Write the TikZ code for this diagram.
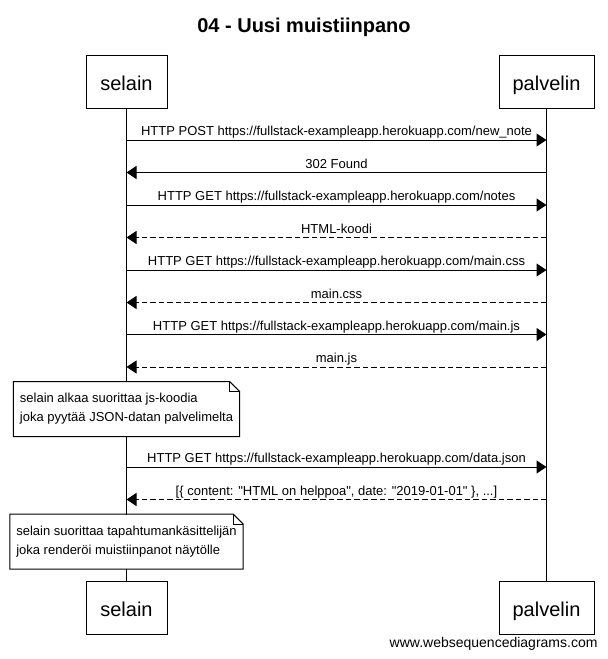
\documentclass[tikz,border=0pt]{standalone}
\usepackage{fontspec}
\setmainfont{Liberation Sans}
\usetikzlibrary{arrows.meta}
\usetikzlibrary{calc}
\usetikzlibrary{positioning}

\begin{document}
\begin{tikzpicture}[
  x=1pt, y=-1pt, line width=1pt,
  > = {Triangle[length=10pt,width=13pt]},
  actor/.style = {draw,minimum height=53pt,inner sep=0pt,text height=17pt,text depth=0pt,font=\fontsize{20}{24}\selectfont},
  msg/.style = {->},
  reply/.style = {->,dash pattern=on 5.5pt off 3pt},
  txt/.style = {anchor=base,yshift=4.5pt,inner sep=0pt,font=\fontsize{13}{16}\selectfont},
  notebox/.style = {fill=white,align=left,inner xsep=6pt,inner ysep=0pt,minimum height=54pt,font=\fontsize{13}{19}\selectfont}
  ]
	\useasboundingbox (0,0) rectangle (608,659);

	\node[anchor=base,font=\bfseries\fontsize{20}{24}\selectfont] (title) at (304,32) {04 - Uusi muistiinpano};

	% osapuolet
	\node[actor,minimum width=81pt] (selT) at (126.5,81.5) {selain};
	\node[actor,minimum width=95pt] (palT) at (546.5,81.5) {palvelin};
	\node[actor,minimum width=81pt] (selB) at (126.5,607.5) {selain};
	\node[actor,minimum width=95pt] (palB) at (546.5,607.5) {palvelin};

	\draw (selT) -- (selB);
	\draw (palT) -- (palB);

	\coordinate (s1) at (126.5,140);   \coordinate (p1) at (546.5,140);
	\coordinate (s2) at (126.5,172.5); \coordinate (p2) at (546.5,172.5);
	\coordinate (s3) at (126.5,205);   \coordinate (p3) at (546.5,205);
	\coordinate (s4) at (126.5,237.5); \coordinate (p4) at (546.5,237.5);
	\coordinate (s5) at (126.5,270);   \coordinate (p5) at (546.5,270);
	\coordinate (s6) at (126.5,302.5); \coordinate (p6) at (546.5,302.5);
	\coordinate (s7) at (126.5,334.5); \coordinate (p7) at (546.5,334.5);
	\coordinate (s8) at (126.5,367);   \coordinate (p8) at (546.5,367);
	\coordinate (s9) at (126.5,467);   \coordinate (p9) at (546.5,467);
	\coordinate (s10) at (126.5,499.5); \coordinate (p10) at (546.5,499.5);

	% viestit
	\draw[msg] (s1) -- node[txt] {HTTP POST https://fullstack-exampleapp.herokuapp.com/new\_note} (p1);
	\draw[msg] (p2) -- node[txt] {302 Found} (s2);
	\draw[msg] (s3) -- node[txt] {HTTP GET https://fullstack-exampleapp.herokuapp.com/notes} (p3);
	\draw[reply] (p4) -- node[txt] {HTML-koodi} (s4);
	\draw[msg] (s5) -- node[txt] {HTTP GET https://fullstack-exampleapp.herokuapp.com/main.css} (p5);
	\draw[reply] (p6) -- node[txt] {main.css} (s6);
	\draw[msg] (s7) -- node[txt] {HTTP GET https://fullstack-exampleapp.herokuapp.com/main.js} (p7);
	\draw[reply] (p8) -- node[txt] {main.js} (s8);
	\draw[msg] (s9) -- node[txt] {HTTP GET https://fullstack-exampleapp.herokuapp.com/data.json} (p9);
	\draw[reply] (p10) -- node[txt] {[\{ content: \textquotedbl HTML on helppoa\textquotedbl, date: \textquotedbl 2019-01-01\textquotedbl\ \}, ...]} (s10);

	% muistiinpanot
	\node[notebox] (n1) at (126.5,409) {selain alkaa suorittaa js-koodia\\joka pyytää JSON-datan palvelimelta};
	\draw (n1.south west) -- (n1.north west) -- ([xshift=-10pt]n1.north east) -- ([yshift=-10pt]n1.north east) -- (n1.south east) -- cycle;
	\draw ([xshift=-10pt]n1.north east) |- ([yshift=-10pt]n1.north east);

	\node[notebox] (n2) at (126.5,541.5) {selain suorittaa tapahtumankäsittelijän\\joka renderöi muistiinpanot näytölle};
	\draw (n2.south west) -- (n2.north west) -- ([xshift=-10pt]n2.north east) -- ([yshift=-10pt]n2.north east) -- (n2.south east) -- cycle;
	\draw ([xshift=-10pt]n2.north east) |- ([yshift=-10pt]n2.north east);

	\node[anchor=base east,inner sep=0pt,font=\fontsize{14}{16}\selectfont] (www) at (598,647) {www.websequencediagrams.com};

\end{tikzpicture}
\end{document}
